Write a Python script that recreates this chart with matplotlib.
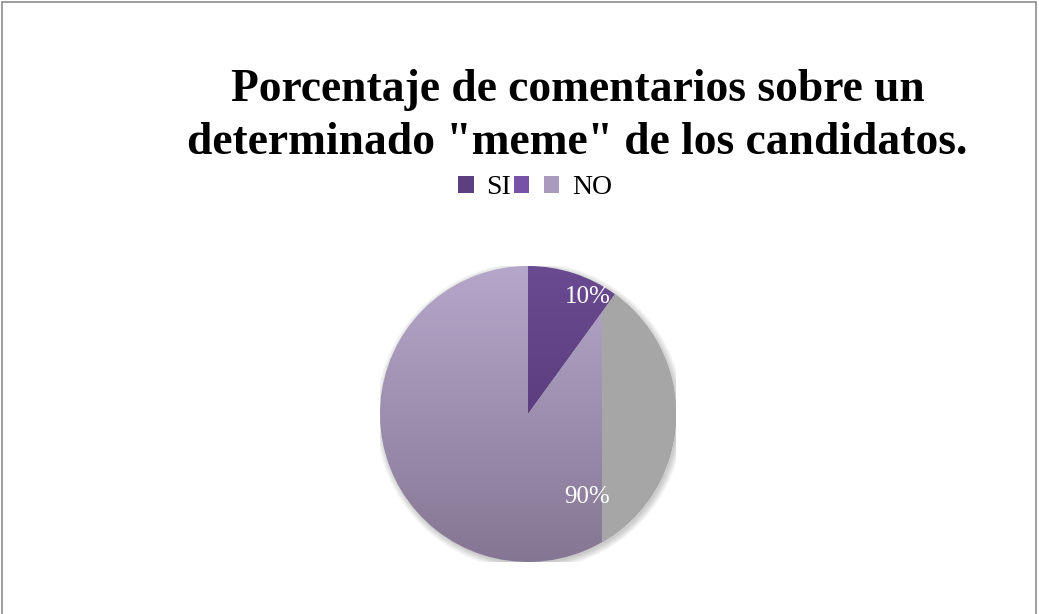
import matplotlib.pyplot as plt
import numpy as np
from matplotlib.colors import LinearSegmentedColormap
from matplotlib.patches import Patch, Rectangle, Circle

plt.rcParams['font.family'] = ['Liberation Serif', 'DejaVu Serif']

labels = ['SI', '', 'NO']
values = [10, 0, 90]
pct_text = ['10%', '', '90%']
# top / bottom colours of each slice gradient
grad_top = ['#6a4a91', '#7d5aab', '#b4a7ca']
grad_bot = ['#4d336e', '#5e4385', '#857793']
legend_cols = ['#5b3f7f', '#7852a6', '#a99bbd']

fig = plt.figure(figsize=(10.39, 6.14), dpi=100)
fig.patches.append(Rectangle((2 / 1039, -0.01), 1034 / 1039, 1 - 2 / 614 + 0.01,
                             transform=fig.transFigure, fill=False,
                             edgecolor='#8c8c8c', linewidth=1.2))

fig.text(0.556, 0.810, 'Porcentaje de comentarios sobre un\ndeterminado "meme" de los candidatos.',
         ha='center', va='center', fontsize=32.8, fontweight='bold', linespacing=1.33)

# pie axes: centre at (528, 414) px, radius ~148 px
r_px = 148
ax = fig.add_axes([(528 - r_px) / 1039, (200 - r_px) / 614, 2 * r_px / 1039, 2 * r_px / 614])

# soft shadow
for k in range(6):
    ax.add_patch(Circle((0.012, -0.015), 1.0 + 0.008 * k, color='#000000',
                        alpha=0.035, zorder=0, lw=0))

wedges, texts = ax.pie(values, startangle=90, counterclock=False, radius=1,
                       wedgeprops=dict(linewidth=0), frame=True)

grad = np.linspace(0, 1, 256).reshape(-1, 1)
for w, ct, cb, v in zip(wedges, grad_top, grad_bot, values):
    w.set_facecolor('none')
    if v == 0:
        continue
    cmap = LinearSegmentedColormap.from_list('g', [ct, cb])
    im = ax.imshow(grad, cmap=cmap, extent=[-1, 1, -1, 1], aspect='auto',
                   origin='upper', zorder=1)
    im.set_clip_path(w)

# grey band rendered on right side of the big slice
gray_x0 = 0.5
band = Rectangle((gray_x0, -1.1), 1.0, 2.2, facecolor='#a6a6a6', lw=0, zorder=2)
ax.add_patch(band)
band.set_clip_path(wedges[2])
ax.set_xlim(-1, 1)
ax.set_ylim(-1, 1)
ax.axis('off')

# percentage labels
label_pos = [(0.405, 0.79), None, (0.40, -0.56)]
for t, pos in zip(pct_text, label_pos):
    if pos is None:
        continue
    ax.text(pos[0], pos[1], t, color='white', fontsize=18, ha='center', va='center', zorder=5)

handles = [Patch(facecolor=c, edgecolor='none') for c in legend_cols]
fig.legend(handles, labels, loc='center', bbox_to_anchor=(0.515, 0.694), ncol=3,
           frameon=False, fontsize=20, handlelength=0.55, handleheight=0.55,
           handletextpad=0.45, columnspacing=0.1)

fig.savefig('out.png', dpi=100)
